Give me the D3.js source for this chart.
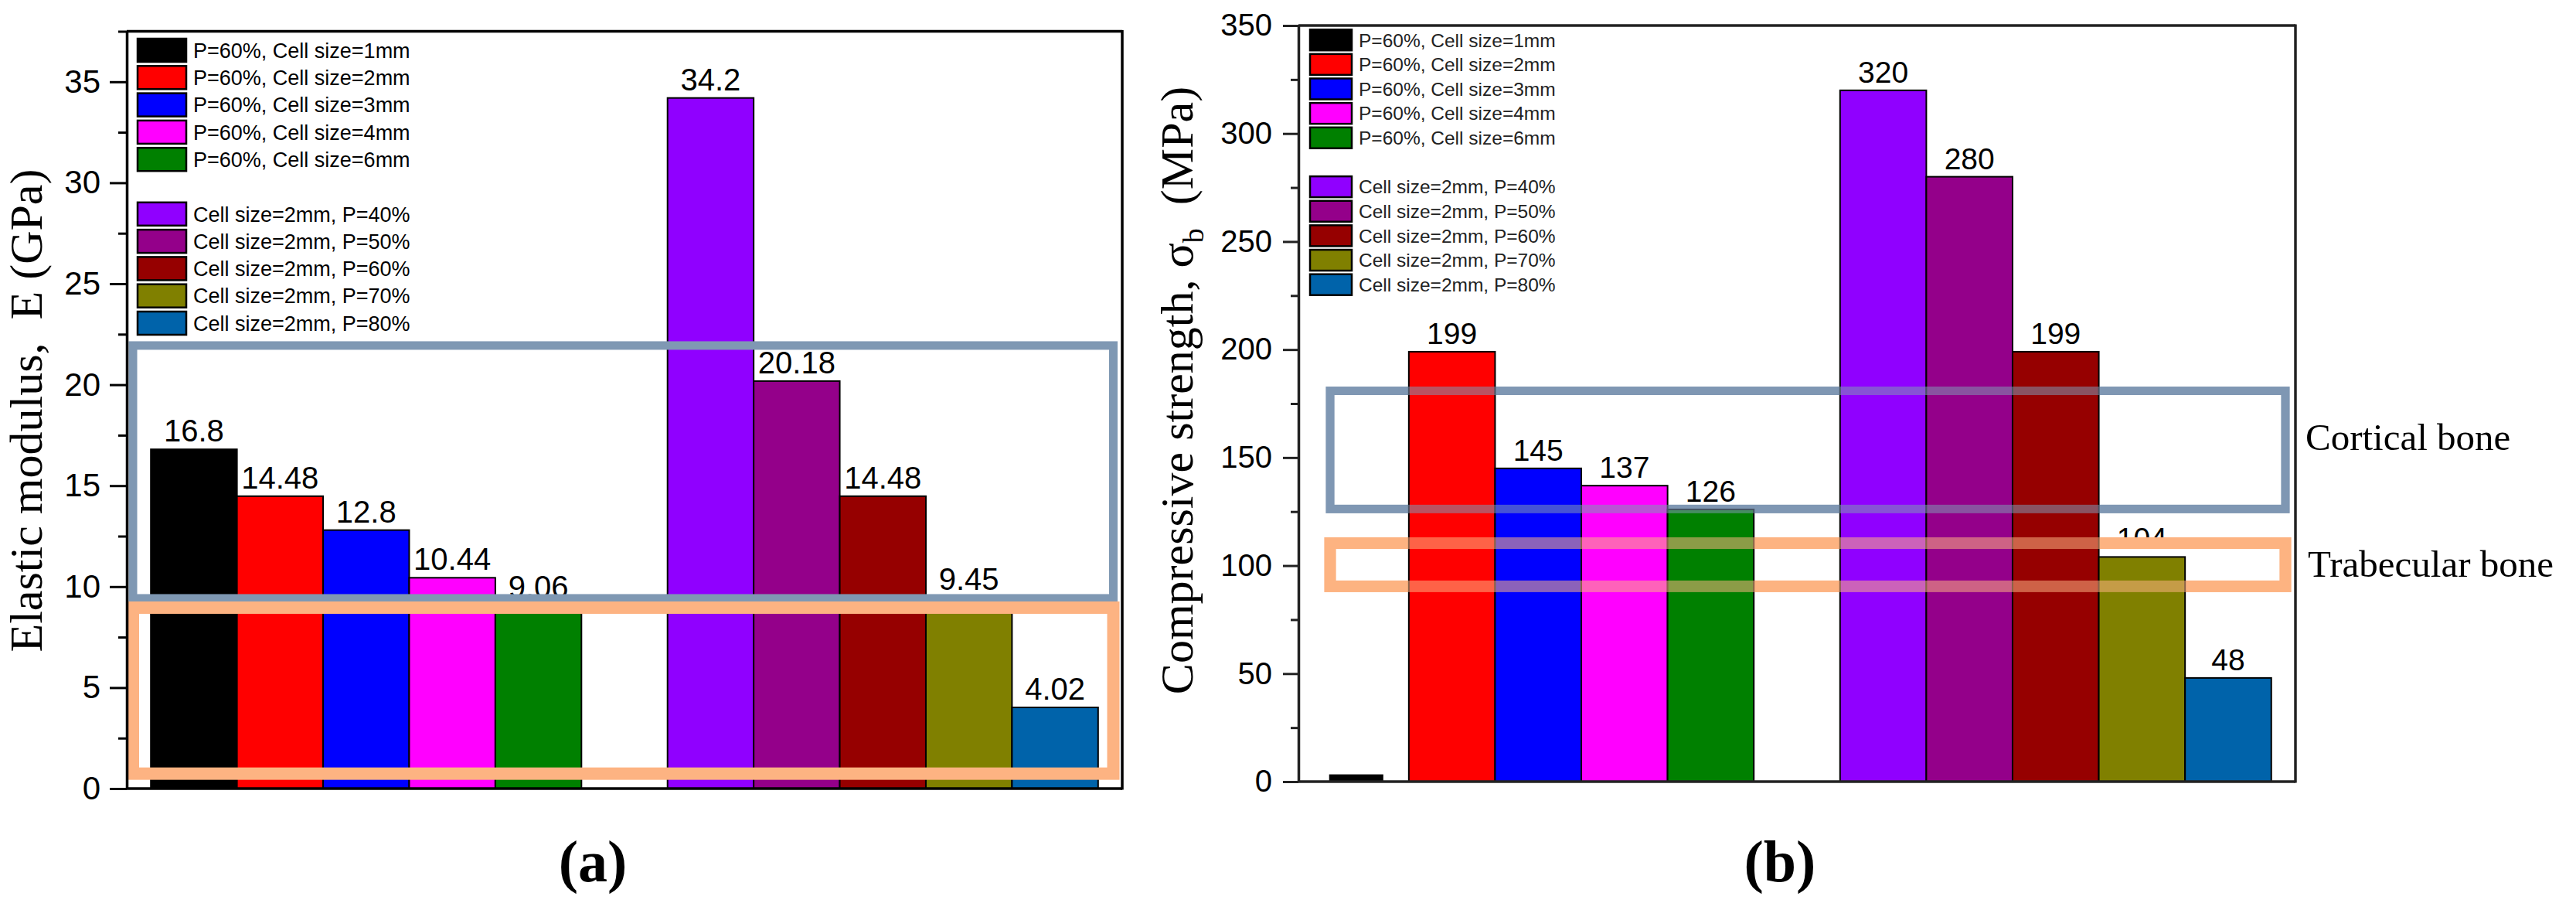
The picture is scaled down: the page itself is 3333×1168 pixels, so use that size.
<!DOCTYPE html>
<html>
<head>
<meta charset="utf-8">
<script src="https://cdn.jsdelivr.net/npm/d3@7/dist/d3.min.js"></script>
<style>
  body { margin: 0; background: #fff; }
  svg text { font-family: "Liberation Sans", Arial, sans-serif; fill: #000; }
  svg text.serif { font-family: "Liberation Serif", "Times New Roman", serif; }
</style>
</head>
<body>
<div class="canvas"></div>
<script>
const width = 3333;
const height = 1168;

// data
const seriesKeys = ["1mm", "2mm", "3mm", "4mm", "6mm", "P40", "P50", "P60", "P70", "P80"];
const xSlots = [...seriesKeys.slice(0, 5), "gap", ...seriesKeys.slice(5)];
const legendLabels = [
  "P=60%, Cell size=1mm", "P=60%, Cell size=2mm", "P=60%, Cell size=3mm",
  "P=60%, Cell size=4mm", "P=60%, Cell size=6mm",
  "Cell size=2mm, P=40%", "Cell size=2mm, P=50%", "Cell size=2mm, P=60%",
  "Cell size=2mm, P=70%", "Cell size=2mm, P=80%"
];
const seriesColors = ["#000000", "#ff0000", "#0000ff", "#ff00ff", "#008000",
                      "#9000ff", "#94008a", "#960000", "#808000", "#0063aa"];

const modulus = [16.8, 14.48, 12.8, 10.44, 9.06, 34.2, 20.18, 14.48, 9.45, 4.02];
const modulusLabels = ["16.8", "14.48", "12.8", "10.44", "9.06", "34.2", "20.18", "14.48", "9.45", "4.02"];
const strength = [3, 199, 145, 137, 126, 320, 280, 199, 104, 48];
const strengthLabels = ["", "199", "145", "137", "126", "320", "280", "199", "104", "48"];

const modulusTicks = [0, 5, 10, 15, 20, 25, 30, 35];
const strengthTicks = [0, 50, 100, 150, 200, 250, 300, 350];

// bone reference bands (value ranges of the boxes)
const corticalA = [9.42, 21.94];
const trabecularA = [0.74, 8.96];
const corticalB = [126.2, 180.9];
const trabecularB = [90.4, 110.4];

const boxBlue = "#7f98b3";
const boxOrange = "#fdb382";

const svg = d3.select(".canvas")
  .append("svg")
  .attr("width", width)
  .attr("height", height)
  .style("background", "#fff");

function drawPanel(cfg) {
  const g = svg.append("g");

  const y = d3.scaleLinear()
    .domain([0, cfg.yMax])
    .range([cfg.bottom, cfg.top]);

  const x = d3.scaleBand()
    .domain(xSlots)
    .range([cfg.left, cfg.right])
    .paddingInner(0)
    .paddingOuter(0.28);

  const data = seriesKeys.map((k, i) => ({
    key: k, value: cfg.values[i], label: cfg.labels[i], color: seriesColors[i], i: i
  }));

  const barX = d => cfg.thinFirst && d.i === 0 ? x(d.key) + x.bandwidth() * 0.085 : x(d.key);
  const barW = d => cfg.thinFirst && d.i === 0 ? x.bandwidth() * 0.61 : x.bandwidth();

  function bars(layer) {
    layer.selectAll("rect.bar")
      .data(data)
      .enter()
      .append("rect")
      .attr("class", "bar")
      .attr("x", barX)
      .attr("y", d => y(d.value))
      .attr("width", barW)
      .attr("height", d => y(0) - y(d.value))
      .attr("fill", d => d.color)
      .attr("stroke", "#000")
      .attr("stroke-width", 2);
  }

  function labels(layer) {
    layer.selectAll("text.val")
      .data(data.filter(d => d.label !== ""))
      .enter()
      .append("text")
      .attr("class", "val")
      .attr("x", d => x(d.key) + x.bandwidth() / 2)
      .attr("y", d => y(d.value) - 10)
      .attr("text-anchor", "middle")
      .style("font-size", cfg.valueFont + "px")
      .text(d => d.label);
  }

  function boxes(layer, opacity) {
    const bx = [
      { range: cfg.cortical, color: boxBlue, w: cfg.blueW },
      { range: cfg.trabecular, color: boxOrange, w: cfg.orangeW }
    ];
    layer.selectAll("rect.box")
      .data(bx)
      .enter()
      .append("rect")
      .attr("class", "box")
      .attr("x", cfg.left + cfg.boxInset[0])
      .attr("width", cfg.right - cfg.boxInset[1] - cfg.left - cfg.boxInset[0])
      .attr("y", d => y(d.range[1]))
      .attr("height", d => y(d.range[0]) - y(d.range[1]))
      .attr("fill", "none")
      .attr("stroke", d => d.color)
      .attr("stroke-width", d => d.w)
      .attr("stroke-opacity", opacity);
  }

  if (cfg.blend) {
    labels(g.append("g"));
    boxes(g.append("g"), 1);
    bars(g.append("g"));
    boxes(g.append("g"), 0.55);
  } else {
    bars(g.append("g"));
    labels(g.append("g"));
    boxes(g.append("g"), 1);
  }

  // frame
  const frame = g.append("g").attr("stroke", cfg.axisColor).attr("stroke-width", 3.5);
  frame.append("line").attr("x1", cfg.left).attr("x2", cfg.right).attr("y1", y(cfg.yMax)).attr("y2", y(cfg.yMax));
  frame.append("line").attr("x1", cfg.right).attr("x2", cfg.right).attr("y1", y(cfg.yMax) - 1.5).attr("y2", y(0) + 1.5);
  frame.append("line").attr("x1", cfg.left).attr("x2", cfg.right).attr("y1", y(0)).attr("y2", y(0));

  // y axis, major + minor ticks
  const step = cfg.ticks[1] - cfg.ticks[0];
  const minor = cfg.ticks.map(t => t + step / 2).filter(t => t <= cfg.yMax);

  const yAxis = g.append("g")
    .attr("transform", `translate(${cfg.left},0)`)
    .call(d3.axisLeft(y).tickValues(cfg.ticks).tickSize(cfg.tickLen).tickPadding(cfg.tickPad).tickSizeOuter(0));
  yAxis.select(".domain").attr("stroke", cfg.axisColor).attr("stroke-width", 3.5);
  yAxis.selectAll(".tick line").attr("stroke", cfg.axisColor).attr("stroke-width", 3);
  yAxis.selectAll(".tick text")
    .attr("fill", "#000")
    .style("font-family", '"Liberation Sans", Arial, sans-serif')
    .style("font-size", cfg.tickFont + "px");

  const yMinor = g.append("g")
    .attr("transform", `translate(${cfg.left},0)`)
    .call(d3.axisLeft(y).tickValues(minor).tickSize(cfg.tickLen / 2).tickFormat(""));
  yMinor.select(".domain").remove();
  yMinor.selectAll(".tick line").attr("stroke", cfg.axisColor).attr("stroke-width", 3);

  // legend
  const leg = g.append("g");
  const rows = leg.selectAll("g.row")
    .data(data)
    .enter()
    .append("g")
    .attr("class", "row")
    .attr("transform", d => `translate(0,${cfg.legY + (d.i < 5 ? d.i : d.i + 1) * cfg.legPitch})`);
  rows.append("rect")
    .attr("x", cfg.legX)
    .attr("y", -cfg.swH / 2)
    .attr("width", cfg.swW)
    .attr("height", cfg.swH)
    .attr("fill", d => d.color)
    .attr("stroke", "#000")
    .attr("stroke-width", 2.5);
  rows.append("text")
    .attr("x", cfg.legX + cfg.swW + 9)
    .attr("dy", "0.36em")
    .style("font-size", cfg.legFont + "px")
    .style("fill", cfg.legColor)
    .text(d => legendLabels[d.i]);

  return y;
}

// (a) elastic modulus
drawPanel({
  left: 164, right: 1452, top: 40.5, bottom: 1020, yMax: 37.5,
  values: modulus, labels: modulusLabels, ticks: modulusTicks,
  cortical: corticalA, trabecular: trabecularA,
  blueW: 11, orangeW: 16, boxInset: [8, 11.5], blend: false,
  tickLen: 22, tickPad: 12, tickFont: 42, valueFont: 40,
  legX: 178, legY: 65, legPitch: 35.3, swW: 63, swH: 30, legFont: 27, legColor: "#000",
  axisColor: "#000", thinFirst: false
});

// (b) compressive strength
const yB = drawPanel({
  left: 1680, right: 2970, top: 33, bottom: 1011, yMax: 350,
  values: strength, labels: strengthLabels, ticks: strengthTicks,
  cortical: corticalB, trabecular: trabecularB,
  blueW: 11, orangeW: 15, boxInset: [41, 13], blend: true,
  tickLen: 20, tickPad: 14, tickFont: 40, valueFont: 39,
  legX: 1695, legY: 51.7, legPitch: 31.65, swW: 54, swH: 27, legFont: 24.5, legColor: "#222",
  axisColor: "#222", thinFirst: true
});

// axis titles
svg.append("text")
  .attr("class", "serif")
  .attr("transform", "translate(54,531) rotate(-90)")
  .attr("text-anchor", "middle")
  .style("font-size", "60px")
  .text("Elastic modulus,\u00a0 E (GPa)");

const tB = svg.append("text")
  .attr("class", "serif")
  .attr("transform", "translate(1543,505) rotate(-90)")
  .attr("text-anchor", "middle")
  .style("font-size", "60px");
tB.append("tspan").text("Compressive strength, \u03c3");
tB.append("tspan").attr("dy", 14).style("font-size", "38px").text("b");
tB.append("tspan").attr("dy", -14).text("\u00a0\u00a0(MPa)");

// bone annotations
svg.append("text")
  .attr("class", "serif")
  .attr("x", 2983)
  .attr("y", yB(d3.mean(corticalB)))
  .style("font-size", "49px")
  .text("Cortical bone");
svg.append("text")
  .attr("class", "serif")
  .attr("x", 2986)
  .attr("y", yB(d3.mean(trabecularB)) + 16)
  .style("font-size", "49px")
  .text("Trabecular bone");

// panel letters
svg.append("text")
  .attr("class", "serif")
  .attr("x", 767).attr("y", 1140)
  .attr("text-anchor", "middle")
  .style("font-size", "76px").style("font-weight", "bold")
  .text("(a)");
svg.append("text")
  .attr("class", "serif")
  .attr("x", 2303).attr("y", 1140)
  .attr("text-anchor", "middle")
  .style("font-size", "76px").style("font-weight", "bold")
  .text("(b)");
</script>
</body>
</html>
